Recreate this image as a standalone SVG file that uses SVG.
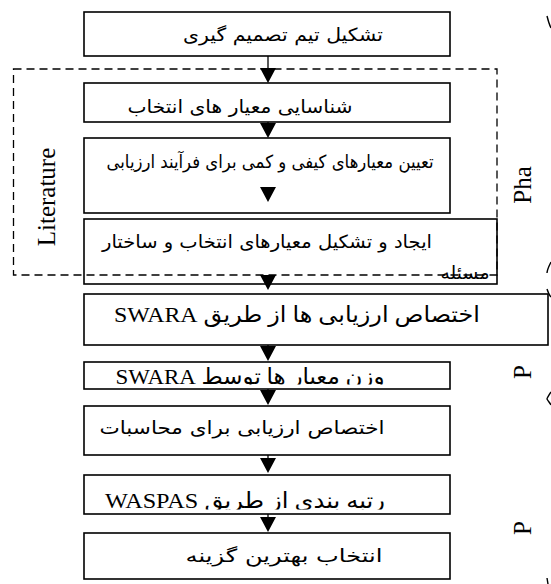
<svg xmlns="http://www.w3.org/2000/svg" width="551" height="584" viewBox="0 0 551 584">
  <defs>
    <marker id="ah" markerUnits="userSpaceOnUse" viewBox="0 0 15 16" markerWidth="15" markerHeight="16" refX="12" refY="8" orient="auto">
      <path d="M0,0 L15,8 L0,16 Z" fill="#000"/>
    </marker>
    <clipPath id="clip6"><rect x="84" y="362" width="366" height="22.5"/></clipPath>
    <clipPath id="clip8"><rect x="84" y="475" width="366" height="34.5"/></clipPath>
    <style>
      .box { fill: #fff; stroke: #000; stroke-width: 1.6; }
      .fa { font-family: 'DejaVu Sans', sans-serif; font-size: 18px; fill: #000; text-anchor: middle; }
      .mix { font-family: 'Liberation Serif', 'DejaVu Sans', serif; font-size: 22px; fill: #000; text-anchor: middle; }
      .side { font-family: 'Liberation Serif', serif; font-size: 25px; fill: #000; text-anchor: middle; }
      .dash { fill: none; stroke: #000; stroke-width: 1.3; stroke-dasharray: 8 5; }
      .conn line { stroke: #000; stroke-width: 1.3; marker-end: url(#ah); }
      .brace path { fill: none; stroke: #000; stroke-width: 1.4; }
    </style>
  </defs>
  <rect width="551" height="584" fill="#fff"/>

  <g id="n1">
    <rect class="box" x="84" y="12" width="366" height="44"/>
    <text class="fa" direction="rtl" x="283" y="41" font-size="20" textLength="200" lengthAdjust="spacingAndGlyphs">تشکیل تیم تصمیم گیری</text>
  </g>
  <g id="n2">
    <rect class="box" x="84" y="83" width="366" height="39"/>
    <text class="fa" direction="rtl" x="240" y="113" font-size="19" textLength="225" lengthAdjust="spacingAndGlyphs">شناسایی معیار های انتخاب</text>
  </g>
  <g id="n3">
    <rect class="box" x="84" y="138" width="366" height="75"/>
    <text class="fa" direction="rtl" x="270" y="168" font-size="18" textLength="327" lengthAdjust="spacingAndGlyphs">تعیین معیارهای کیفی و کمی برای فرآیند ارزیابی</text>
  </g>
  <g id="n4">
    <rect class="box" x="84" y="219" width="413" height="65"/>
    <text class="fa" direction="rtl" x="267" y="248" font-size="18" textLength="330" lengthAdjust="spacingAndGlyphs">ایجاد و تشکیل معیارهای انتخاب و ساختار</text>
    <text class="fa" direction="rtl" x="465" y="279" font-size="18" textLength="49" lengthAdjust="spacingAndGlyphs">مسئله</text>
  </g>
  <g id="n5">
    <rect class="box" x="84" y="294" width="464" height="51"/>
    <text class="mix" direction="rtl" x="297" y="322" font-size="24" textLength="366" lengthAdjust="spacingAndGlyphs">اختصاص ارزیابی ها از طریق SWARA</text>
  </g>
  <g id="n6">
    <rect class="box" x="84" y="362" width="366" height="27"/>
    <text class="mix" clip-path="url(#clip6)" direction="rtl" x="250" y="384" font-size="21" textLength="269" lengthAdjust="spacingAndGlyphs">وزن معیار ها توسط SWARA</text>
  </g>
  <g id="n7">
    <rect class="box" x="84" y="406" width="366" height="49"/>
    <text class="fa" direction="rtl" x="242" y="434" font-size="18" textLength="285" lengthAdjust="spacingAndGlyphs">اختصاص ارزیابی برای محاسبات</text>
  </g>
  <g id="n8">
    <rect class="box" x="84" y="475" width="366" height="39"/>
    <text class="mix" clip-path="url(#clip8)" direction="rtl" x="245" y="508" font-size="23" textLength="280" lengthAdjust="spacingAndGlyphs">رتبه بندی از طریق WASPAS</text>
  </g>
  <g id="n9">
    <rect class="box" x="84" y="533" width="366" height="46"/>
    <text class="fa" direction="rtl" x="284" y="562" font-size="20" textLength="197" lengthAdjust="spacingAndGlyphs">انتخاب بهترین گزینه</text>
  </g>

  <g id="literature-group">
    <rect class="dash" x="13.5" y="69" width="483.5" height="206"/>
    <text class="side" transform="translate(55,197) rotate(-90)">Literature</text>
  </g>

  <g id="phase-labels">
    <text class="side" transform="translate(531,185) rotate(-90)">Pha</text>
    <text class="side" transform="translate(531,372) rotate(-90)">P</text>
    <text class="side" transform="translate(531,528) rotate(-90)">P</text>
  </g>

  <g id="phase-braces" class="brace">
    <path d="M547,16 C548,20 549,24 551,28"/>
    <path d="M551,262 C549,266 547,270 547,273"/>
    <path d="M547,289 C548,292 549,295 551,297"/>
    <path d="M551,392 C549,395 547,398 547,399 C548,401 550,403 551,405"/>
    <path d="M547,578 L548,584"/>
  </g>

  <g id="connectors" class="conn">
    <line x1="268" y1="56" x2="268" y2="80"/>
    <line x1="268" y1="122" x2="268" y2="135"/>
    <line x1="268" y1="190" x2="268" y2="199"/>
    <line x1="268" y1="276" x2="268" y2="287"/>
    <line x1="268" y1="345" x2="268" y2="358"/>
    <line x1="268" y1="389" x2="268" y2="402"/>
    <line x1="268" y1="455" x2="268" y2="470"/>
    <line x1="268" y1="514" x2="268" y2="529"/>
  </g>
</svg>
